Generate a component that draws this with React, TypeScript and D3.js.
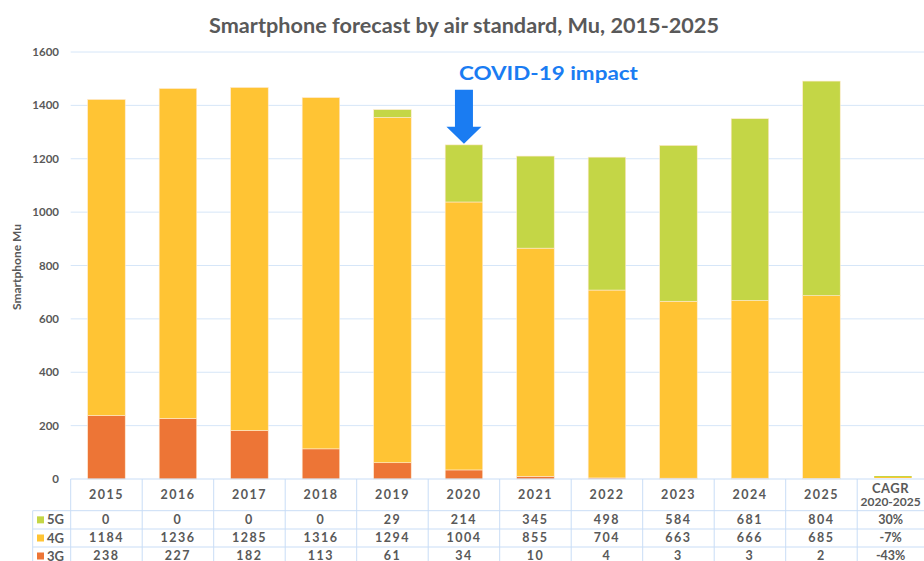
import React from "react";
import * as d3 from "d3";

const years = ["2015", "2016", "2017", "2018", "2019", "2020", "2021", "2022", "2023", "2024", "2025"];
const g5 = [0, 0, 0, 0, 29, 214, 345, 498, 584, 681, 804];
const g4 = [1184, 1236, 1285, 1316, 1294, 1004, 855, 704, 663, 666, 685];
const g3 = [238, 227, 182, 113, 61, 34, 10, 4, 3, 3, 2];
const cagr = { g5: "30%", g4: "-7%", g3: "-43%" };
const yTicks = [0, 200, 400, 600, 800, 1000, 1200, 1400, 1600];

const colors = { g3: "#ED7536", g4: "#FFC434", g5: "#C4D646" };
const grey = "#595959";
const grid = "#D6E6F8";
const font = "Lato, 'DejaVu Sans', sans-serif";

const W = 924, H = 561;

export default function App() {
  const cats = [...years, "CAGR"];
  const x = d3.scaleBand<string>().domain(cats).range([70.7, 928.7]).paddingInner(0.475).paddingOuter(0.2375);
  const y = d3.scaleLinear().domain([0, 1600]).range([479, 52]);
  const step = x.step();
  const left = 70.7;

  const rows = years.map((yr, i) => ({ year: yr, g3: g3[i], g4: g4[i], g5: g5[i] }));
  const stack = d3.stack<any>().keys(["g3", "g4", "g5"])(rows);

  const covidIdx = years.indexOf("2020");
  const cx = x("2020")! + x.bandwidth() / 2;
  const tip = y(g3[covidIdx] + g4[covidIdx] + g5[covidIdx]) - 1;

  const tableRows = [
    { key: "g5", label: "5G", vals: g5, cagr: cagr.g5, y0: 510.7, y1: 529 },
    { key: "g4", label: "4G", vals: g4, cagr: cagr.g4, y0: 529, y1: 547 },
    { key: "g3", label: "3G", vals: g3, cagr: cagr.g3, y0: 547, y1: 565 },
  ];

  const cagrX = x("CAGR")!;
  const bw = x.bandwidth();
  // the CAGR column runs past the right edge, so centre its text in the visible part
  const cagrMid = (cagrX - (step - bw) / 2 + W) / 2;

  return (
    <svg width={W} height={H} style={{ position: "absolute", left: 0, top: 0, background: "#fff" }} fontFamily={font}>
      <text x={464} y={33} textAnchor="middle" fontSize={20} fontWeight="bold" fill={grey} textLength={510} lengthAdjust="spacingAndGlyphs">
        Smartphone forecast by air standard, Mu, 2015-2025
      </text>

      {/* gridlines + y ticks */}
      {yTicks.map((t) => (
        <g key={t}>
          {t > 0 && <line x1={left} x2={W} y1={y(t)} y2={y(t)} stroke={grid} strokeWidth={1} />}
          <text x={59} y={y(t)} dy="0.35em" textAnchor="end" fontSize={11.5} fontWeight="bold" fill={grey}>
            {t}
          </text>
        </g>
      ))}
      <text transform={`translate(21,${267}) rotate(-90)`} textAnchor="middle" fontSize={12} fontWeight="bold" fill={grey}>
        Smartphone Mu
      </text>

      {/* bars */}
      {stack.map((s) => (
        <g key={s.key} fill={(colors as any)[s.key]}>
          {s.map((d, i) => (
            <rect key={i} x={x(years[i])} width={bw} y={y(d[1])} height={Math.max(0, y(d[0]) - y(d[1]))}
              stroke="#FFE9CF" strokeWidth={0.6} />
          ))}
        </g>
      ))}
      {/* CAGR sliver */}
      <rect x={cagrX} width={bw} y={y(0) - 2} height={1} fill={colors.g4} />
      <rect x={cagrX} width={bw} y={y(0) - 3} height={1} fill={colors.g5} />

      {/* COVID annotation */}
      <path
        d={`M${cx},${tip} L${cx - 17.5},${tip - 17} L${cx - 9},${tip - 17} L${cx - 9},${tip - 54} L${cx + 9},${tip - 54} L${cx + 9},${tip - 17} L${cx + 17.5},${tip - 17} Z`}
        fill="#1A7CF2"
      />
      <text x={cx - 5} y={80} fontSize={19} fontWeight="bold" fill="#1A7CF2" textLength={179} lengthAdjust="spacingAndGlyphs">COVID-19 impact</text>

      {/* data table */}
      <g stroke="#C9DDF6" strokeWidth={1}>
        <line x1={left} x2={W} y1={479} y2={479} />
        {tableRows.map((r) => (
          <line key={r.key} x1={32.7} x2={W} y1={r.y0} y2={r.y0} />
        ))}
        <line x1={32.7} x2={32.7} y1={510.7} y2={H} />
        {cats.map((c) => (
          <line key={c} x1={x(c)! - (step - bw) / 2} x2={x(c)! - (step - bw) / 2} y1={479} y2={H} />
        ))}
      </g>
      {years.map((yr) => (
        <text key={yr} x={x(yr)! + bw / 2} y={495} dy="0.35em" textAnchor="middle" fontSize={12.5} fontWeight="bold" fill={grey} letterSpacing={1.5}>
          {yr}
        </text>
      ))}
      <text x={cagrMid} y={488} dy="0.35em" textAnchor="middle" fontSize={13} fontWeight="bold" fill={grey} letterSpacing={0.5}>CAGR</text>
      <text x={cagrMid} y={502} dy="0.35em" textAnchor="middle" fontSize={12} fontWeight="bold" fill={grey}>2020-2025</text>

      {tableRows.map((r) => {
        const cy = (r.y0 + r.y1) / 2;
        return (
          <g key={r.key}>
            <rect x={37} y={cy - 3.5} width={7} height={7} fill={(colors as any)[r.key]} />
            <text x={47} y={cy} dy="0.35em" fontSize={13} fontWeight="bold" fill={grey}>{r.label}</text>
            {r.vals.map((v, i) => (
              <text key={i} x={x(years[i])! + bw / 2} y={cy} dy="0.35em" textAnchor="middle" fontSize={12.5} fontWeight="bold" fill={grey} letterSpacing={1.5}>
                {v}
              </text>
            ))}
            <text x={cagrMid} y={cy} dy="0.35em" textAnchor="middle" fontSize={12.5} fontWeight="bold" fill={grey}>
              {r.cagr}
            </text>
          </g>
        );
      })}
    </svg>
  );
}
